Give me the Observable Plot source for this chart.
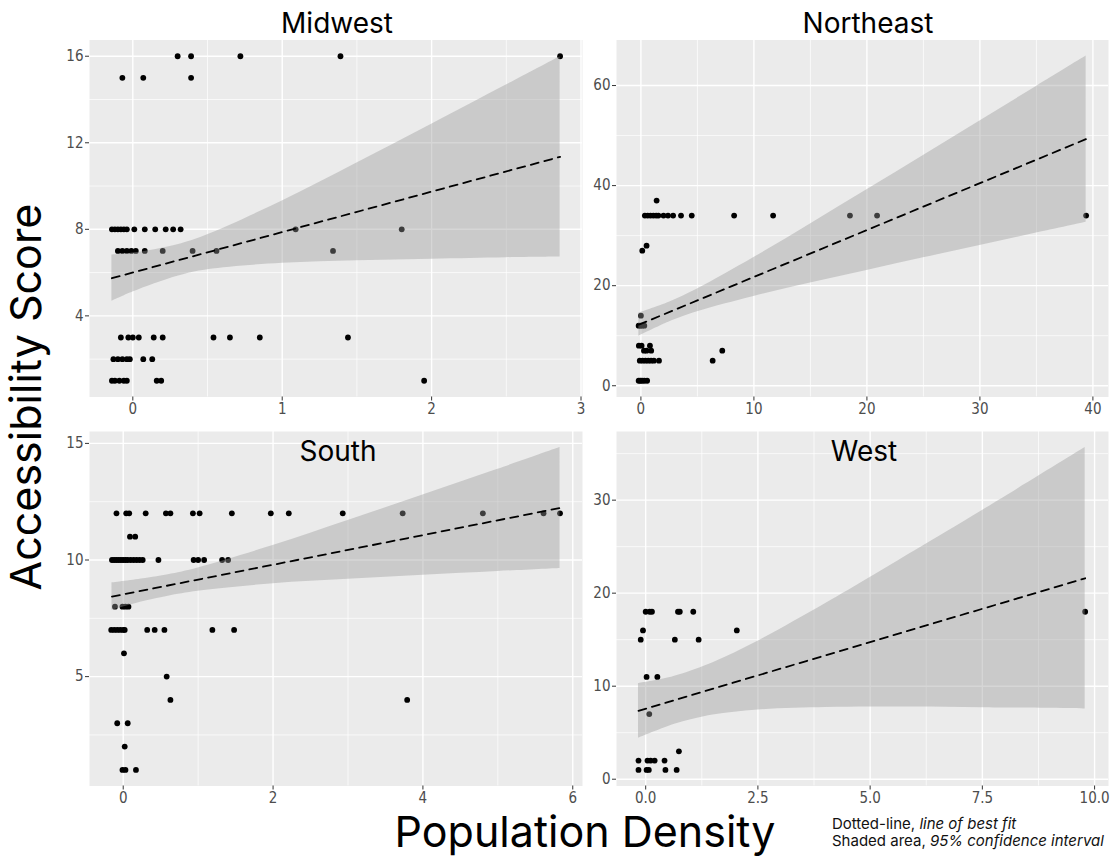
<!DOCTYPE html>
<html>
<head>
<meta charset="utf-8">
<script src="https://cdn.jsdelivr.net/npm/d3@7"></script>
<script src="https://cdn.jsdelivr.net/npm/@observablehq/plot@0.6"></script>
<style>
  html, body { margin: 0; padding: 0; background: #ffffff; }
  #root { position: relative; width: 1115px; height: 859px; overflow: hidden; background: #fff; }
  .panel { position: absolute; }
  .strip { position: absolute; font-family: Inter, "Noto Sans", sans-serif; font-size: 28px; color: #000; transform: translateX(-50%); white-space: nowrap; line-height: 1; }
  .ylab { position: absolute; font-family: Inter, "Noto Sans", sans-serif; font-size: 43px; color: #000; white-space: nowrap; line-height: 0.85; transform: translate(-50%, -50%) rotate(-90deg); }
  .xlab { position: absolute; font-family: Inter, "Noto Sans", sans-serif; font-size: 43px; color: #000; white-space: nowrap; line-height: 0.8; transform: translateX(-50%); }
  .cap { position: absolute; font-family: Inter, "Noto Sans", sans-serif; font-size: 15px; color: #111; line-height: 17px; white-space: nowrap; }
</style>
</head>
<body>
<div id="root"></div>
<script>
// ---------- Data ----------
const regions = ["Midwest", "Northeast", "South", "West"];

// Midwest points
const midwestX = [0.30, 0.39, 0.72, 1.39, 2.86,
  -0.07, 0.07, 0.39,
  -0.14, -0.12, -0.10, -0.08, -0.06, -0.04, 0.01, 0.08, 0.15, 0.22, 0.27, 0.32, 1.09, 1.80,
  -0.10, -0.07, -0.04, -0.01, 0.02, 0.08, 0.20, 0.40, 0.56, 1.34,
  -0.08, -0.03, 0.00, 0.04, 0.14, 0.20, 0.54, 0.65, 0.85, 1.44,
  -0.13, -0.10, -0.07, -0.04, -0.02, 0.07, 0.13,
  -0.14, -0.12, -0.09, -0.06, -0.04, 0.16, 0.19, 1.95];
const midwestY = [16, 16, 16, 16, 16,
  15, 15, 15,
  8, 8, 8, 8, 8, 8, 8, 8, 8, 8, 8, 8, 8, 8,
  7, 7, 7, 7, 7, 7, 7, 7, 7, 7,
  3, 3, 3, 3, 3, 3, 3, 3, 3, 3,
  2, 2, 2, 2, 2, 2, 2,
  1, 1, 1, 1, 1, 1, 1, 1];

// Northeast points
const northeastX = [0.35, 0.6, 0.85, 1.1, 1.35, 1.55, 2.0, 2.4, 2.85, 3.55, 4.5, 8.25, 11.7, 18.5, 20.9, 39.4,
  1.39, 0.5, 0.12, 0.0,
  -0.2, -0.05, 0.1, 0.3,
  -0.18, 0.06, 0.8,
  0.27, 0.5, 0.91, 7.2,
  -0.1, 0.15, 0.4, 0.65, 0.9, 1.15, 1.6, 6.35,
  -0.2, -0.05, 0.1, 0.3, 0.55];
const northeastY = [34, 34, 34, 34, 34, 34, 34, 34, 34, 34, 34, 34, 34, 34, 34, 34,
  37, 28, 27, 14,
  12, 12, 12, 12,
  8, 8, 8,
  7, 7, 7, 7,
  5, 5, 5, 5, 5, 5, 5, 5,
  1, 1, 1, 1, 1];

// South points
const southX = [-0.09, 0.04, 0.08, 0.30, 0.57, 0.63, 0.93, 1.02, 1.45, 1.97, 2.21, 2.93, 3.73, 4.80, 5.61, 5.83,
  0.09, 0.16,
  -0.15, -0.12, -0.09, -0.06, -0.03, 0.0, 0.03, 0.06, 0.10, 0.14, 0.18, 0.22, 0.26, 0.47, 0.94, 1.00, 1.08, 1.32, 1.40,
  -0.11, -0.01, 0.03, 0.07,
  -0.16, -0.12, -0.08, -0.04, 0.0, 0.02, 0.32, 0.42, 0.55, 1.19, 1.48,
  0.01, 0.58, 0.63, 3.79,
  -0.08, 0.06, 0.02,
  -0.01, 0.03, 0.17];
const southY = [12, 12, 12, 12, 12, 12, 12, 12, 12, 12, 12, 12, 12, 12, 12, 12,
  11, 11,
  10, 10, 10, 10, 10, 10, 10, 10, 10, 10, 10, 10, 10, 10, 10, 10, 10, 10, 10,
  8, 8, 8, 8,
  7, 7, 7, 7, 7, 7, 7, 7, 7, 7, 7,
  6, 5, 4, 4,
  3, 3, 2,
  1, 1, 1];

// West points
const westX = [0.00, 0.09, 0.14, 0.72, 0.76, 1.06, 9.79,
  -0.06, 2.03,
  -0.11, 0.65, 1.18,
  0.02, 0.26,
  0.08, 0.74,
  -0.16, 0.04, 0.11, 0.20, 0.42,
  -0.16, 0.02, 0.07, 0.44, 0.69];
const westY = [18, 18, 18, 18, 18, 18, 18,
  16, 16,
  15, 15, 15,
  11, 11,
  7, 3,
  2, 2, 2, 2, 2,
  1, 1, 1, 1, 1];

// Fitted lines (end points) and 95% confidence bands
const midwestFitX = [-0.14, 2.86];
const midwestFitY = [5.74, 11.35];
const midwestBandX = [-0.14, 0, 0.3, 0.5, 1.0, 1.5, 2.0, 2.5, 2.86];
const midwestBandLo = [4.67, 5.10, 5.83, 6.13, 6.43, 6.55, 6.62, 6.69, 6.72];
const midwestBandHi = [6.81, 6.90, 7.29, 7.75, 9.31, 11.07, 12.86, 14.67, 15.98];

const northeastFitX = [-0.18, 39.4];
const northeastFitY = [12.2, 49.3];
const northeastBandX = [-0.18, 2.5, 5, 10, 15, 20, 25, 30, 35, 39.4];
const northeastBandLo = [9.90, 12.75, 14.80, 17.86, 20.51, 23.05, 25.56, 28.04, 30.52, 32.69];
const northeastBandHi = [14.50, 16.67, 19.32, 25.62, 32.35, 39.17, 46.04, 52.92, 59.82, 65.89];

const southFitX = [-0.15, 5.83];
const southFitY = [8.43, 12.23];
const southBandX = [-0.15, 0.3, 0.6, 1, 2, 3, 4, 5, 5.83];
const southBandLo = [7.84, 8.24, 8.45, 8.66, 8.98, 9.17, 9.35, 9.51, 9.64];
const southBandHi = [9.02, 9.21, 9.37, 9.66, 10.62, 11.69, 12.79, 13.89, 14.82];

const westFitX = [-0.16, 9.79];
const westFitY = [7.35, 21.6];
const westBandX = [-0.16, 0.4, 0.76, 1.5, 2.5, 4, 5, 6, 7.5, 9.79];
const westBandLo = [4.42, 5.49, 6.07, 6.89, 7.44, 7.70, 7.76, 7.75, 7.69, 7.55];
const westBandHi = [10.28, 10.77, 11.23, 12.53, 14.84, 18.86, 21.68, 24.55, 28.89, 35.65];

// Tick values
const midwestXTicks = [0, 1, 2, 3], midwestXMinor = [0.5, 1.5, 2.5];
const midwestYTicks = [4, 8, 12, 16], midwestYMinor = [2, 6, 10, 14];
const northeastXTicks = [0, 10, 20, 30, 40], northeastXMinor = [5, 15, 25, 35];
const northeastYTicks = [0, 20, 40, 60], northeastYMinor = [10, 30, 50];
const southXTicks = [0, 2, 4, 6], southXMinor = [1, 3, 5];
const southYTicks = [5, 10, 15], southYMinor = [2.5, 7.5, 12.5];
const westXTicks = [0, 2.5, 5, 7.5, 10], westXMinor = [1.25, 3.75, 6.25, 8.75];
const westYTicks = [0, 10, 20, 30], westYMinor = [5, 15, 25, 35];

const yLabel = "Accessibility Score";
const xLabel = "Population Density";
const captionLines = [["Dotted-line, ", "line of best fit"], ["Shaded area, ", "95% confidence interval"]];

// ---------- Build ----------
const zip2 = (xs, ys) => xs.map((x, i) => ({x, y: ys[i]}));
const band = (xs, lo, hi) => xs.map((x, i) => ({x, lo: lo[i], hi: hi[i]}));

const panels = [
  {name: "Midwest", pts: zip2(midwestX, midwestY), fit: zip2(midwestFitX, midwestFitY),
   band: band(midwestBandX, midwestBandLo, midwestBandHi),
   xDom: [-0.29, 3.01], yDom: [0.25, 16.75],
   xT: midwestXTicks, xM: midwestXMinor, yT: midwestYTicks, yM: midwestYMinor, xFmt: d3.format("d"),
   left: 40, top: 0, width: 550, height: 420, mL: 49, mR: 8, mT: 39.5, mB: 23.5,
   titleX: 337, titleY: 9},
  {name: "Northeast", pts: zip2(northeastX, northeastY), fit: zip2(northeastFitX, northeastFitY),
   band: band(northeastBandX, northeastBandLo, northeastBandHi),
   xDom: [-2.16, 41.38], yDom: [-2.25, 69.1],
   xT: northeastXTicks, xM: northeastXMinor, yT: northeastYTicks, yM: northeastYMinor, xFmt: d3.format("d"),
   left: 580, top: 0, width: 535, height: 420, mL: 36, mR: 7, mT: 39.5, mB: 23.5,
   titleX: 868, titleY: 9},
  {name: "South", pts: zip2(southX, southY), fit: zip2(southFitX, southFitY),
   band: band(southBandX, southBandLo, southBandHi),
   xDom: [-0.45, 6.13], yDom: [0.31, 15.51],
   xT: southXTicks, xM: southXMinor, yT: southYTicks, yM: southYMinor, xFmt: d3.format("d"),
   left: 40, top: 420, width: 550, height: 390, mL: 49, mR: 8, mT: 11, mB: 24.5,
   titleX: 338, titleY: 437},
  {name: "West", pts: zip2(westX, westY), fit: zip2(westFitX, westFitY),
   band: band(westBandX, westBandLo, westBandHi),
   xDom: [-0.65, 10.31], yDom: [-0.73, 37.38],
   xT: westXTicks, xM: westXMinor, yT: westYTicks, yM: westYMinor, xFmt: d3.format(".1f"),
   left: 580, top: 420, width: 535, height: 390, mL: 36, mR: 7, mT: 11, mB: 24.5,
   titleX: 864, titleY: 437}
];

const root = document.getElementById("root");
const tickFont = '"Liberation Sans Narrow", "DejaVu Sans Condensed", Roboto, sans-serif';

for (const p of panels) {
  const chart = Plot.plot({
    width: p.width, height: p.height,
    marginLeft: p.mL, marginRight: p.mR, marginTop: p.mT, marginBottom: p.mB,
    style: {background: "transparent", fontFamily: tickFont, overflow: "visible"},
    x: {domain: p.xDom},
    y: {domain: p.yDom},
    marks: [
      Plot.frame({fill: "#ebebeb", stroke: null}),
      Plot.gridX(p.xM, {stroke: "#ffffff", strokeOpacity: 1, strokeWidth: 0.7}),
      Plot.gridY(p.yM, {stroke: "#ffffff", strokeOpacity: 1, strokeWidth: 0.7}),
      Plot.gridX(p.xT, {stroke: "#ffffff", strokeOpacity: 1, strokeWidth: 1.4}),
      Plot.gridY(p.yT, {stroke: "#ffffff", strokeOpacity: 1, strokeWidth: 1.4}),
      Plot.axisX(p.xT, {tickSize: 4, tickPadding: 2, fontSize: 15, label: null, stroke: "#333333", fill: "#4d4d4d", tickFormat: p.xFmt}),
      Plot.axisY(p.yT, {tickSize: 4, tickPadding: 2, fontSize: 15, label: null, stroke: "#333333", fill: "#4d4d4d", tickFormat: d3.format("d")}),
      Plot.dot(p.pts, {x: "x", y: "y", r: 2.9, fill: "#000000", stroke: null}),
      Plot.areaY(p.band, {x: "x", y1: "lo", y2: "hi", fill: "#999999", fillOpacity: 0.4, curve: "catmull-rom"}),
      Plot.line(p.fit, {x: "x", y: "y", stroke: "#000000", strokeWidth: 1.8, strokeDasharray: "8,6"})
    ]
  });
  const wrap = document.createElement("div");
  wrap.className = "panel";
  wrap.style.left = p.left + "px";
  wrap.style.top = p.top + "px";
  wrap.appendChild(chart);
  root.appendChild(wrap);

  const t = document.createElement("div");
  t.className = "strip";
  t.textContent = p.name;
  t.style.left = p.titleX + "px";
  t.style.top = p.titleY + "px";
  root.appendChild(t);
}

const yl = document.createElement("div");
yl.className = "ylab";
yl.textContent = yLabel;
yl.style.left = "25px";
yl.style.top = "397px";
root.appendChild(yl);

const xl = document.createElement("div");
xl.className = "xlab";
xl.textContent = xLabel;
xl.style.left = "585px";
xl.style.top = "814px";
root.appendChild(xl);

const cap = document.createElement("div");
cap.className = "cap";
cap.style.left = "832px";
cap.style.top = "815px";
for (const [plain, ital] of captionLines) {
  const line = document.createElement("div");
  line.appendChild(document.createTextNode(plain));
  const em = document.createElement("i");
  em.textContent = ital;
  line.appendChild(em);
  cap.appendChild(line);
}
root.appendChild(cap);
</script>
</body>
</html>
